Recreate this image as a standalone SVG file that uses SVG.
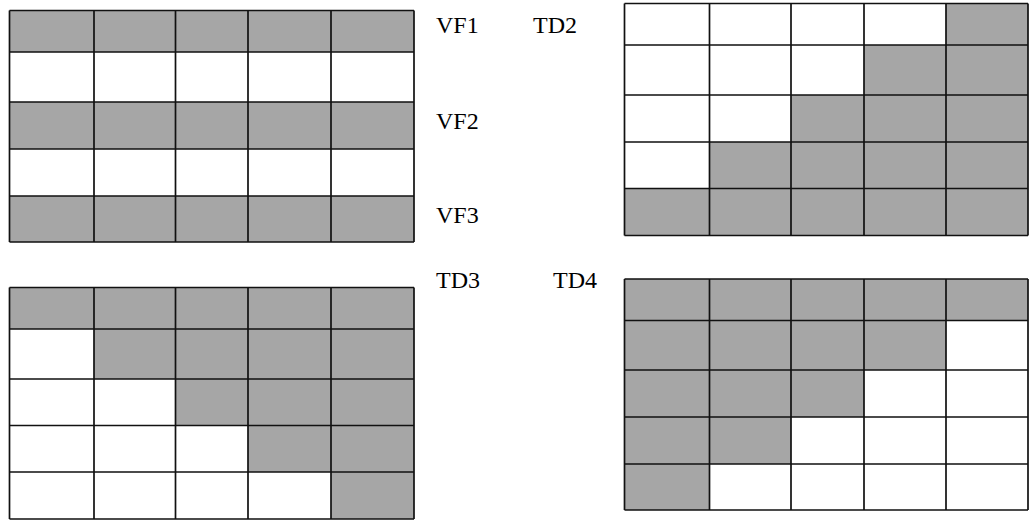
<svg xmlns="http://www.w3.org/2000/svg" width="1029" height="524" viewBox="0 0 1029 524">
<style>
.g{fill:#a6a6a6;stroke:none}
.ln{fill:none;stroke:#111;stroke-width:1.7}
.t{font-family:"Liberation Serif","Times New Roman",serif;font-size:24px;fill:#000}
</style>
<rect width="1029" height="524" fill="#fff"/>
<g id="vf">
<rect class="g" x="9.5" y="10.5" width="404.5" height="41.5"/>
<rect class="g" x="9.5" y="102" width="404.5" height="47"/>
<rect class="g" x="9.5" y="196" width="404.5" height="46"/>
<path class="ln" d="M9.5 10.5H414M9.5 52H414M9.5 102H414M9.5 149H414M9.5 196H414M9.5 242H414M9.5 10.5V242M94 10.5V242M175.5 10.5V242M248 10.5V242M331 10.5V242M414 10.5V242"/>
</g>
<g id="td2">
<path class="g" d="M946 3.5H1028V235.5H624.5V188.5H709.5V142H791V95H864V45H946Z"/>
<path class="ln" d="M624.5 3.5H1028M624.5 45H1028M624.5 95H1028M624.5 142H1028M624.5 188.5H1028M624.5 235.5H1028M624.5 3.5V235.5M709.5 3.5V235.5M791 3.5V235.5M864 3.5V235.5M946 3.5V235.5M1028 3.5V235.5"/>
</g>
<g id="td3">
<path class="g" d="M9.5 287.5H414V519H331V472H248V425.5H175.5V379H94V329H9.5Z"/>
<path class="ln" d="M9.5 287.5H414M9.5 329H414M9.5 379H414M9.5 425.5H414M9.5 472H414M9.5 519H414M9.5 287.5V519M94 287.5V519M175.5 287.5V519M248 287.5V519M331 287.5V519M414 287.5V519"/>
</g>
<g id="td4">
<path class="g" d="M624.5 279H1028V320.5H946V370H864V417H791V464H709.5V510H624.5Z"/>
<path class="ln" d="M624.5 279H1028M624.5 320.5H1028M624.5 370H1028M624.5 417H1028M624.5 464H1028M624.5 510H1028M624.5 279V510M709.5 279V510M791 279V510M864 279V510M946 279V510M1028 279V510"/>
</g>
<g id="labels">
<text class="t" x="436" y="33">VF1</text>
<text class="t" x="436" y="129">VF2</text>
<text class="t" x="436" y="223">VF3</text>
<text class="t" x="533" y="33">TD2</text>
<text class="t" x="436" y="288">TD3</text>
<text class="t" x="553" y="288">TD4</text>
</g>
</svg>
